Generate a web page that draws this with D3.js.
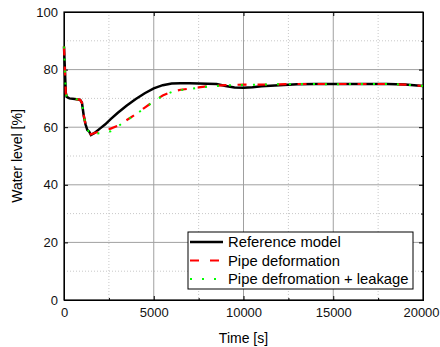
<!DOCTYPE html>
<html>
<head>
<meta charset="utf-8">
<script src="https://cdn.jsdelivr.net/npm/d3@7"></script>
<style>
  body { margin: 0; background: #fff; }
  text { font-family: "Liberation Sans", Arial, sans-serif; }
</style>
</head>
<body>
<script>
const time = [0, 50, 100, 150, 300, 600, 900, 1000, 1100, 1200, 1300, 1400, 1500, 1700, 2000, 2300, 2600, 3000, 3500, 4000, 4500, 5000, 5500, 6000, 6500, 7000, 7500, 8000, 8500, 9000, 9500, 10000, 10500, 11000, 12000, 13000, 14000, 15000, 16000, 17000, 18000, 19000, 20000];
const refModel = [88, 80, 72, 70.5, 70, 69.8, 69.5, 68.5, 64, 61, 59, 58.5, 57.3, 58, 59.5, 61, 62.8, 65, 67.5, 69.8, 71.8, 73.5, 74.6, 75.2, 75.3, 75.3, 75.2, 75.1, 75, 74.3, 73.8, 73.7, 73.9, 74.2, 74.6, 74.9, 75, 75, 75, 75, 75, 74.8, 74.3];
const pipeDef = [88, 80, 72, 70.5, 70, 69.8, 69.5, 68.5, 64, 61, 59, 58.5, 57.5, 58, 58.5, 59, 59.5, 60.5, 62.5, 64.5, 66.8, 69, 71, 72.3, 73, 73.4, 73.8, 74.2, 74.4, 74.6, 74.7, 74.8, 74.8, 74.8, 74.9, 75, 75, 75, 75, 75, 75, 74.8, 74.3];
const pipeLeak = [88, 80, 72, 70.5, 70, 69.8, 69.5, 68.5, 64, 61, 59, 58.5, 57.5, 57.8, 57.9, 58.1, 58.6, 60.3, 62.4, 64.4, 66.7, 68.9, 70.9, 72.2, 72.9, 73.3, 73.7, 74.1, 74.3, 74.5, 74.6, 74.7, 74.7, 74.8, 74.9, 75, 75, 74.9, 75, 75, 75, 74.8, 74.3];
const seriesNames = ["Reference model", "Pipe deformation", "Pipe defromation + leakage"];
const xTicks = [0, 5000, 10000, 15000, 20000];
const yTicks = [0, 20, 40, 60, 80, 100];

const W = 440, H = 347;
const m = { left: 64, right: 17, top: 12, bottom: 47 };
const iw = W - m.left - m.right, ih = H - m.top - m.bottom;

const svg = d3.select("body").append("svg").attr("width", W).attr("height", H);
const g = svg.append("g").attr("transform", `translate(${m.left},${m.top})`);

const x = d3.scaleLinear().domain([0, 20000]).range([0, iw]);
const y = d3.scaleLinear().domain([0, 100]).range([ih, 0]);

// minor grid (dotted)
const xMinor = d3.range(2500, 20000, 5000);
const yMinor = d3.range(10, 100, 20);
g.selectAll(".xminor").data(xMinor).enter().append("line")
  .attr("x1", d => x(d)).attr("x2", d => x(d)).attr("y1", 0).attr("y2", ih)
  .attr("stroke", "#c8c8c8").attr("stroke-dasharray", "1,2");
g.selectAll(".yminor").data(yMinor).enter().append("line")
  .attr("y1", d => y(d)).attr("y2", d => y(d)).attr("x1", 0).attr("x2", iw)
  .attr("stroke", "#c8c8c8").attr("stroke-dasharray", "1,2");
// major grid
g.selectAll(".xmajor").data(xTicks.slice(1, -1)).enter().append("line")
  .attr("x1", d => x(d)).attr("x2", d => x(d)).attr("y1", 0).attr("y2", ih)
  .attr("stroke", "#a0a0a0");
g.selectAll(".ymajor").data(yTicks.slice(1, -1)).enter().append("line")
  .attr("y1", d => y(d)).attr("y2", d => y(d)).attr("x1", 0).attr("x2", iw)
  .attr("stroke", "#a0a0a0");

// axes with inward ticks
const xAxis = g.append("g").attr("transform", `translate(0,${ih})`)
  .call(d3.axisBottom(x).tickValues(xTicks).tickSize(-4).tickPadding(8).tickFormat(d3.format("d")));
g.append("g")
  .call(d3.axisLeft(y).tickValues(yTicks).tickSize(-4).tickPadding(6));
g.append("g").attr("transform", `translate(${iw},0)`)
  .call(d3.axisRight(y).tickValues(yTicks).tickSize(-4).tickFormat(""));
g.append("g").call(d3.axisTop(x).tickValues(xTicks).tickSize(-4).tickFormat(""));
g.append("g").attr("transform", `translate(0,${ih})`)
  .call(d3.axisBottom(x).tickValues(xMinor).tickSize(-2).tickFormat(""));
g.append("g").attr("transform", `translate(${iw},0)`)
  .call(d3.axisRight(y).tickValues(yMinor).tickSize(-2).tickFormat(""));
g.selectAll(".domain").attr("stroke", "#000");
g.selectAll(".tick text").attr("font-size", 13).attr("fill", "#111");
// keep the last x label inside the window
xAxis.selectAll(".tick text").filter(d => d === 20000).attr("dx", -2);
g.append("rect").attr("width", iw).attr("height", ih)
  .attr("fill", "none").attr("stroke", "#000").attr("stroke-width", 1.2);

// lines
const line = vals => d3.line().x((d, i) => x(time[i])).y((d, i) => y(vals[i]))(vals);
g.append("path").attr("d", line(refModel)).attr("fill", "none")
  .attr("stroke", "#000").attr("stroke-width", 2.5);
g.append("path").attr("d", line(pipeDef)).attr("fill", "none")
  .attr("stroke", "#ff0000").attr("stroke-width", 2.2).attr("stroke-dasharray", "9,11");
g.append("path").attr("d", line(pipeLeak)).attr("fill", "none")
  .attr("stroke", "#00ff00").attr("stroke-width", 2).attr("stroke-dasharray", "2,10");

// legend
const lg = svg.append("g").attr("transform", "translate(188,232)");
lg.append("rect").attr("width", 225).attr("height", 57)
  .attr("fill", "#fff").attr("stroke", "#000").attr("stroke-width", 1);
const styles = [
  { c: "#000", w: 2.5, d: null },
  { c: "#ff0000", w: 2.2, d: "9,11" },
  { c: "#00ff00", w: 2, d: "2,10" }
];
seriesNames.forEach((n, i) => {
  const yy = 10 + i * 18.5;
  lg.append("line").attr("x1", 2).attr("x2", 35).attr("y1", yy).attr("y2", yy)
    .attr("stroke", styles[i].c).attr("stroke-width", styles[i].w)
    .attr("stroke-dasharray", styles[i].d);
  lg.append("text").attr("x", 40).attr("y", yy + 5).attr("font-size", 14.8).text(n);
});

// axis titles
svg.append("text").attr("x", m.left + iw / 2).attr("y", 343)
  .attr("text-anchor", "middle").attr("font-size", 14).text("Time [s]");
svg.append("text").attr("transform", `translate(22,${m.top + ih / 2}) rotate(-90)`)
  .attr("text-anchor", "middle").attr("font-size", 14).text("Water level [%]");
</script>
</body>
</html>
